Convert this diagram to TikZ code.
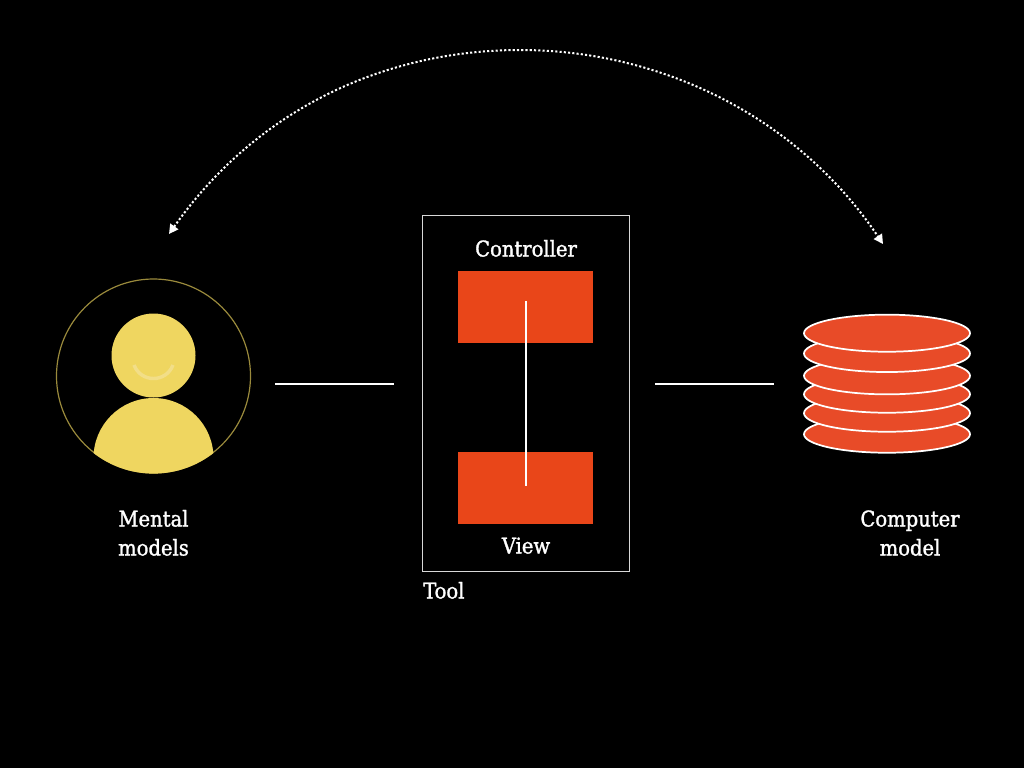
\documentclass[tikz,border=0pt]{standalone}
\usepackage{fontspec}
\setmainfont{DejaVu Serif Condensed}[FakeBold=1.4]
\usetikzlibrary{arrows.meta,shapes.geometric}
\definecolor{ylw}{HTML}{EFD660}
\definecolor{ring}{HTML}{9A8A3C}
\definecolor{smile}{HTML}{F2DE88}
\definecolor{redbox}{HTML}{E94619}
\definecolor{disc}{HTML}{E84B28}
\definecolor{frame}{HTML}{D8D8D8}
\tikzset{
  x=0.75pt,y=-0.75pt,
  lbl/.style={text=white,font=\fontsize{16.3pt}{19pt}\selectfont,align=center,inner sep=0pt,anchor=base},
  plate/.style={draw=white,line width=1.3pt,fill=disc,ellipse,minimum width=124.5pt,minimum height=27.8pt,inner sep=0pt},
  redrect/.style={fill=redbox,minimum width=101.25pt,minimum height=54.2pt,inner sep=0pt,draw=none},
  conn/.style={draw=white,line width=1.5pt},
  loop/.style={draw=white,line width=1.5pt,dash pattern=on 1.6pt off 1.6pt,{Triangle[width=7.2pt,length=7pt,fill=white]}-{Triangle[width=7.2pt,length=7pt,fill=white]}}
}
\begin{document}
\begin{tikzpicture}
\fill[black] (0,0) rectangle (1024,768);
\useasboundingbox (0,0) rectangle (1024,768);
% person
\node[circle,draw=ring,line width=0.9pt,minimum size=145.5pt,inner sep=0pt] (ringn) at (153.5,376) {};
\begin{scope}
\clip (153.5,376) circle [radius=97.6];
\fill[ylw] (153.5,458) circle [radius=60];
\end{scope}
\node[circle,fill=ylw,minimum size=63pt,inner sep=0pt] (head) at (153.5,355.5) {};
\draw[smile,line width=2.6pt] (134,365) .. controls (141,383) and (166,383) .. (173,365);
% tool
\node[draw=frame,line width=0.9pt,minimum width=155.2pt,minimum height=267pt,inner sep=0pt] (tool) at (525.8,393.7) {};
\node[redrect] (ctrl) at (525.8,307.2) {};
\node[redrect] (view) at (525.8,488.2) {};
\coordinate (ctrlin) at (526,301);
\coordinate (viewin) at (526,486);
\draw[conn] (ctrlin) -- (viewin);
% stack
\node[plate] (p6) at (887,434.2) {};
\node[plate] (p5) at (887,413.2) {};
\node[plate] (p4) at (887,394.2) {};
\node[plate] (p3) at (887,375.8) {};
\node[plate] (p2) at (887,353.5) {};
\node[plate] (p1) at (887,333.2) {};
% connectors
\coordinate (l1) at (275,383.5);
\coordinate (l2) at (394,383.5);
\coordinate (r1) at (655,383.5);
\coordinate (r2) at (774,383.5);
\draw[conn] (l1) -- (l2);
\draw[conn] (r1) -- (r2);
\coordinate (al) at (169,234);
\coordinate (ar) at (883,244);
\draw[loop] (al) .. controls (260,105) and (390,50) .. (520,50) .. controls (665,50) and (800,120) .. (ar);
% labels
\node[lbl] (t1) at (526,256.5) {Controller};
\node[lbl] (t2) at (526,553.5) {View};
\node[lbl,anchor=base west] (t3) at (423,598.5) {Tool};
\node[lbl] (t4) at (153.5,526.5) {Mental};
\node[lbl] (t5) at (153.5,555.5) {models};
\node[lbl] (t6) at (910,526.5) {Computer};
\node[lbl] (t7) at (910,555.5) {model};
\end{tikzpicture}
\end{document}
